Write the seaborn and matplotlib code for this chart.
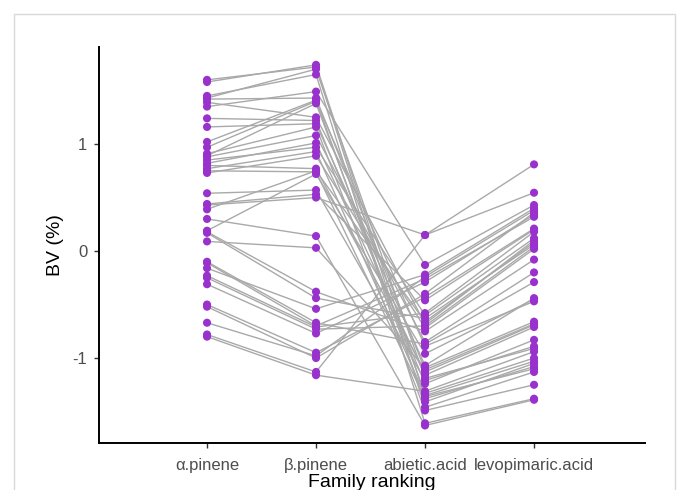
import numpy as np
import pandas as pd
import matplotlib
matplotlib.use("Agg")
import matplotlib.pyplot as plt
from matplotlib.patches import Rectangle
import seaborn as sns

categories = ["α.pinene", "β.pinene", "abietic.acid", "levopimaric.acid"]

alpha_pinene = [1.60, 1.58, 1.45, 1.43, 1.42, 1.39, 1.35, 1.24, 1.16, 1.02,
                0.97, 0.91, 0.89, 0.88, 0.85, 0.82, 0.80, 0.77, 0.75, 0.73,
                0.54, 0.44, 0.43, 0.39, 0.30, 0.19, 0.18, 0.17, 0.09, -0.10,
                -0.11, -0.16, -0.23, -0.25, -0.31, -0.50, -0.52, -0.67, -0.78, -0.80]
beta_pinene = [1.72, 1.74, 1.65, 1.70, 1.43, 1.25, 1.49, 1.22, 1.19, 1.41,
               1.40, 1.16, 1.38, 1.08, 0.97, 1.01, 0.77, 0.93, 0.74, 0.89,
               0.57, 0.53, 0.50, 0.75, 0.14, 0.72, -0.38, -0.44, 0.03, -0.67,
               -0.70, -0.54, -0.71, -0.73, -0.77, -0.95, -1.00, -0.98, -1.13, -1.16]
abietic_acid = [-1.46, -1.36, -1.61, -1.19, -1.11, -0.68, -0.13, -1.24, -1.07, -1.41,
                -0.89, -1.49, -1.33, -0.85, -0.60, -1.16, -1.13, -1.35, -1.38, -0.72,
                -1.21, -0.46, 0.15, -0.66, -1.63, -0.96, -0.75, -0.63, -1.09, -0.87,
                -0.26, -0.22, -0.58, -0.70, -0.29, -0.43, -0.40, -0.24, 0.15, -1.31]
levopimaric_acid = [-1.13, -1.10, -1.38, -0.91, -0.68, 0.10, 0.43, -0.83, -0.44, -1.05,
                    -0.47, -1.25, -1.00, -0.20, 0.12, -0.71, -0.69, -1.03, -1.08, 0.02,
                    -0.89, 0.20, 0.81, 0.08, -1.39, -0.45, -0.08, 0.06, -0.66, -0.29,
                    0.32, 0.40, 0.18, 0.04, 0.34, 0.21, 0.36, 0.38, 0.545, -0.94]

y_ticks = [-1, 0, 1]
y_tick_labels = ["-1", "0", "1"]

series = [alpha_pinene, beta_pinene, abietic_acid, levopimaric_acid]
rows = []
for cat, vals in zip(categories, series):
    for i, v in enumerate(vals):
        rows.append({"family": cat, "BV": v, "id": i})
df = pd.DataFrame(rows)

sns.set_style("white")
plt.rcParams["font.family"] = ["Liberation Sans", "DejaVu Sans"]
plt.rcParams["axes.unicode_minus"] = False

fig = plt.figure(figsize=(6.78, 4.90), dpi=100)
W, H = 678, 490
ax = fig.add_axes([99 / W, 1 - 443 / H, (645 - 99) / W, (443 - 47) / H])

sns.lineplot(data=df, x="family", y="BV", units="id", estimator=None,
             color="#A9A9A9", linewidth=1.0, ax=ax, sort=False, legend=False)
sns.scatterplot(data=df, x="family", y="BV", color="#9932CC", s=34,
                edgecolor="none", ax=ax, legend=False, zorder=3)

ax.set_xlim(-0.991, 4.018)
ax.set_ylim(-1.794, 1.907)
ax.set_yticks(y_ticks)
ax.set_yticklabels(y_tick_labels)

for side in ["top", "right"]:
    ax.spines[side].set_visible(False)
for side in ["left", "bottom"]:
    ax.spines[side].set_color("black")
    ax.spines[side].set_linewidth(1.4)

ax.tick_params(axis="both", which="major", length=3.5, width=1.0,
               color="#333333", labelcolor="#4D4D4D", labelsize=12,
               direction="out", pad=5, left=True, bottom=True)
ax.tick_params(axis="x", pad=7)

ax.set_xlabel("Family ranking", fontsize=14, color="black", labelpad=1)
ax.set_ylabel("BV (%)", fontsize=14, color="black", labelpad=6)

fig.patches.append(Rectangle((14 / W, -0.05), (675 - 14) / W, 1 - 14 / H + 0.05,
                             transform=fig.transFigure, fill=False,
                             edgecolor="#D9D9D9", linewidth=1.0, zorder=0))

fig.savefig("out.png", dpi=100, facecolor="white")
